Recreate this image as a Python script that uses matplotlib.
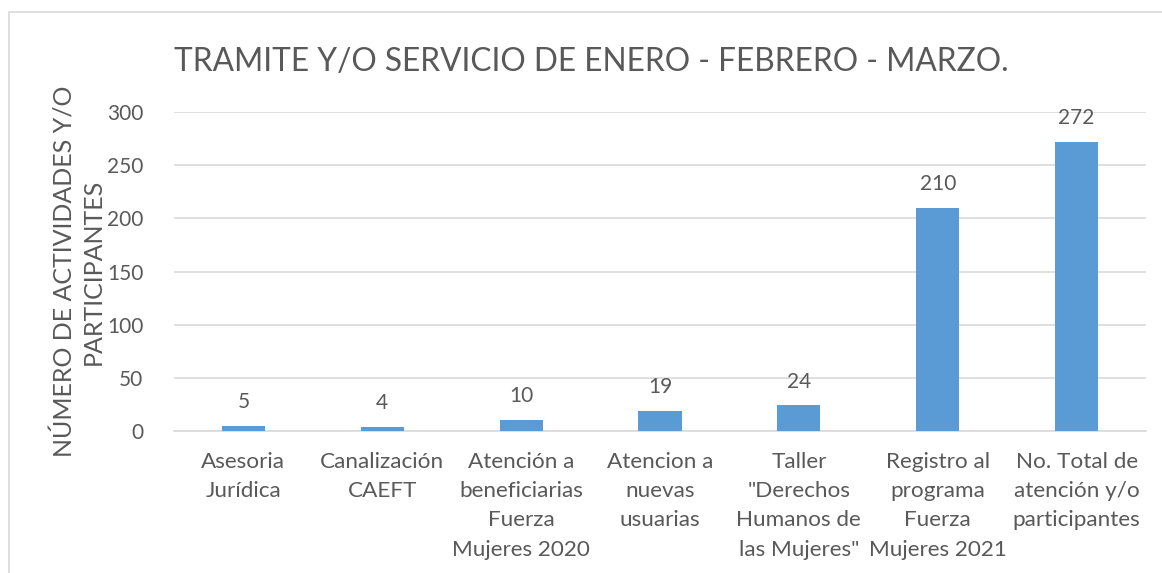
import matplotlib.pyplot as plt
from matplotlib.patches import Rectangle

# Data
categories = [
    "Asesoria\nJurídica",
    "Canalización\nCAEFT",
    "Atención a\nbeneficiarias\nFuerza\nMujeres 2020",
    "Atencion a\nnuevas\nusuarias",
    "Taller\n\"Derechos\nHumanos de\nlas Mujeres\"",
    "Registro al\nprograma\nFuerza\nMujeres 2021",
    "No. Total de\natención y/o\nparticipantes",
]
values = [5, 4, 10, 19, 24, 210, 272]
yticks = [0, 50, 100, 150, 200, 250, 300]

text_color = "#595959"
bar_color = "#5B9BD5"
grid_color = "#D9D9D9"
plt.rcParams["font.family"] = ["Lato", "DejaVu Sans"]

fig = plt.figure(figsize=(11.62, 5.73), dpi=100)
ax = fig.add_axes([174 / 1162, 1 - 431 / 573, (1146 - 174) / 1162, (431 - 112) / 573])

# chart frame (top and left edges visible)
fig.patches.append(Rectangle((9 / 1162, -0.1), 1.2, 1 - 12 / 573 + 0.1,
                             transform=fig.transFigure, fill=False,
                             edgecolor="#D9D9D9", linewidth=1.2))

x = range(len(categories))
bars = ax.bar(x, values, width=0.31, color=bar_color, zorder=3)

for xi, v in zip(x, values):
    ax.annotate(str(v), (xi, v), xytext=(0, 10), textcoords="offset points",
                ha="center", va="bottom", fontsize=15, color=text_color)

ax.set_xlim(-0.5, len(categories) - 0.5)
ax.set_ylim(0, 300)
ax.set_yticks(yticks)
ax.set_xticks(list(x))
ax.set_xticklabels(categories, fontsize=16.2, color=text_color, linespacing=1.58)
ax.tick_params(axis="y", labelsize=15, labelcolor=text_color, length=0, pad=22)
ax.tick_params(axis="x", length=0, pad=15)
ax.yaxis.grid(True, color=grid_color, linewidth=1.2, zorder=0)
for s in ["top", "right", "left"]:
    ax.spines[s].set_visible(False)
ax.spines["bottom"].set_color(grid_color)
ax.spines["bottom"].set_linewidth(1.2)

ax.set_ylabel("NÚMERO DE ACTIVIDADES Y/O\nPARTICIPANTES", fontsize=18,
              color=text_color, linespacing=1.25, labelpad=2)

fig.text(591 / 1162, 1 - 62 / 573, "TRAMITE Y/O SERVICIO DE ENERO - FEBRERO - MARZO.",
         ha="center", va="center", fontsize=22.8, color=text_color)

fig.savefig("out.png", dpi=100, facecolor="white")
